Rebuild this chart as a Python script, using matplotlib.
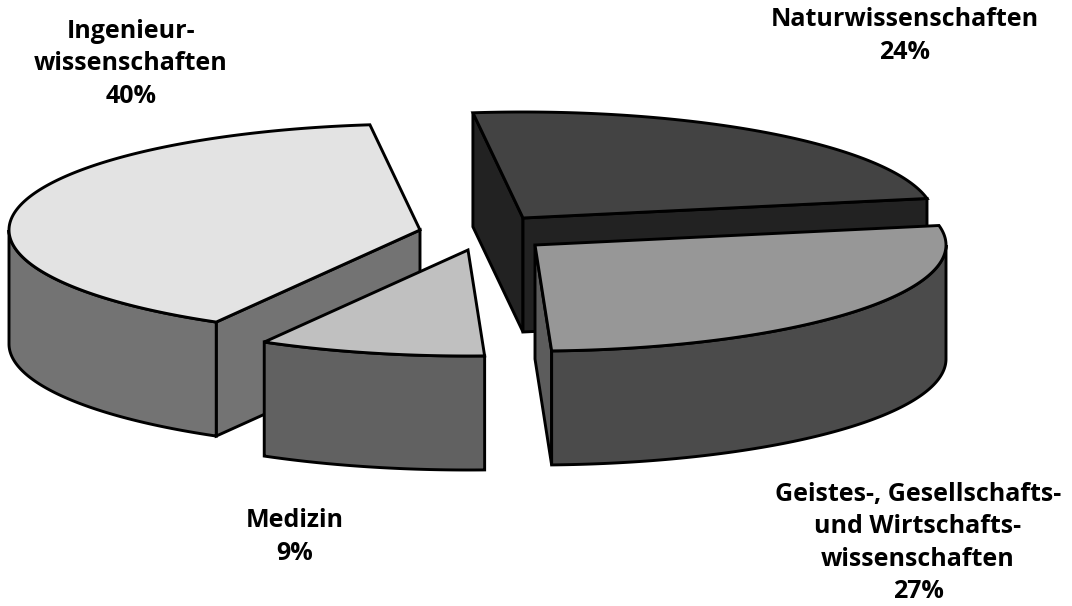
import numpy as np
import matplotlib
matplotlib.use('Agg')
import matplotlib.pyplot as plt

# data
labels = ['Naturwissenschaften', 'Geistes-, Gesellschafts-\nund Wirtschafts-\nwissenschaften', 'Medizin', 'Ingenieur-\nwissenschaften']
shares = [24.0, 27.3, 8.9, 39.8]  # unrounded

# layout, pixels of the picture
start_angle = 97.0
rx, ry = 411, 106
depth = 114
apex_x = [523, 535, 468, 420]
apex_y = [218, 245, 250, 230]
label_x = [905, 918, 295, 131]
label_y = [36, 543, 537, 64]
draw_order = [0, 1, 3, 2]

top_col = ['#434343', '#979797', '#c0c0c0', '#e3e3e3']
side_col = ['#222222', '#4b4b4b', '#616161', '#737373']
face_col = ['#222222', '#5c5c5c', '#616161', '#737373']

fig = plt.figure(figsize=(10.72, 6.06), dpi=100)
ax = fig.add_axes([0, 0, 1, 1])
ax.set_xlim(0, 1072)
ax.set_ylim(606, 0)
ax.axis('off')


def rim(cx, cy, t0, t1):
    t = np.radians(np.linspace(t0, t1, 200))
    return cx + rx * np.cos(t), cy - ry * np.sin(t)


def shape(xs, ys, col, z):
    ax.fill(xs, ys, facecolor=col, edgecolor='black', linewidth=2.1, joinstyle='miter', zorder=z)


angles = start_angle - np.cumsum([0] + shares) * 3.6

for z, i in enumerate(draw_order):
    cx, cy = apex_x[i], apex_y[i]
    t0, t1 = angles[i], angles[i + 1]   # clockwise from t0 to t1
    base = z * 10

    # cut faces, only those turned towards the viewer
    for t, visible in [(t0, np.cos(np.radians(t0)) < 0), (t1, np.cos(np.radians(t1)) > 0)]:
        if visible:
            ex, ey = rim(cx, cy, t, t)
            shape([cx, ex[0], ex[0], cx], [cy, ey[0], ey[0] + depth, cy + depth], face_col[i], base + 1)

    # outer wall, front half of the ellipse only
    hi, lo = min(t0, 0), max(t1, -180)
    if hi > lo:
        wx, wy = rim(cx, cy, hi, lo)
        shape(np.r_[wx, wx[::-1]], np.r_[wy, wy[::-1] + depth], side_col[i], base + 2)

    # top
    tx, ty = rim(cx, cy, t0, t1)
    shape(np.r_[cx, tx], np.r_[cy, ty], top_col[i], base + 3)

for i in range(len(labels)):
    ax.text(label_x[i], label_y[i], f'{labels[i]}\n{round(shares[i])}%', ha='center', va='center',
            family='Open Sans', fontweight='bold', fontsize=18, linespacing=1.38,
            color='black', zorder=100)

fig.savefig('out.png', dpi=100, facecolor='white')
